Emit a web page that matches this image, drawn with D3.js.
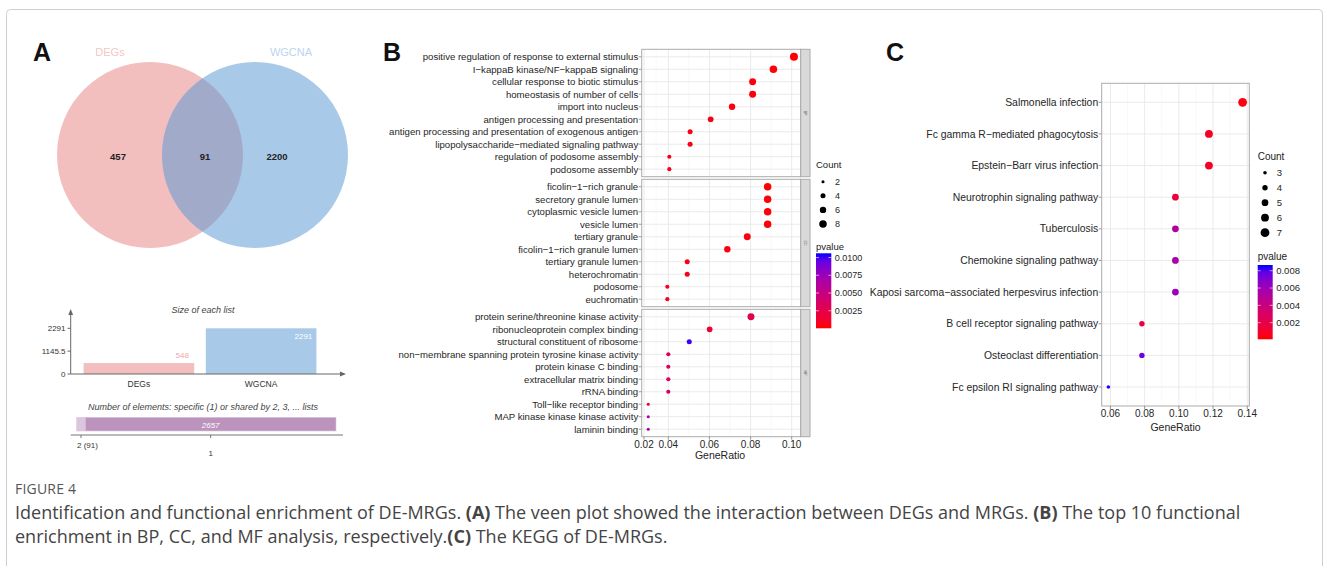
<!DOCTYPE html>
<html><head><meta charset="utf-8">
<script src="https://cdn.jsdelivr.net/npm/d3@7"></script>
<style>body{margin:0;background:#fff}svg{display:block}</style>
</head><body>
<svg id="c" width="1330" height="566"></svg>
<script>
// ---------------- DATA ----------------
const vennSets = ["DEGs", "WGCNA"];
const vennRegionCounts = [457, 91, 2200];
const listSizes = [548, 2291];
const sizeTicks = [0, 1145.5, 2291];
const sharedLabels = ["2 (91)", "1"];
const sharedCounts = [91, 2657];

const bpTerms = ["positive regulation of response to external stimulus","I\u2212kappaB kinase/NF\u2212kappaB signaling","cellular response to biotic stimulus","homeostasis of number of cells","import into nucleus","antigen processing and presentation","antigen processing and presentation of exogenous antigen","lipopolysaccharide\u2212mediated signaling pathway","regulation of podosome assembly","podosome assembly"];
const bpRatio = [0.1011,0.0911,0.0810,0.0810,0.0710,0.0606,0.0506,0.0506,0.0405,0.0405];
const bpCount = [9,8,7,7,6,5,4,4,3,3];
const bpP = [0.0001,0.0002,0.0002,0.0003,0.0003,0.0004,0.0004,0.0004,0.0005,0.0005];

const ccTerms = ["ficolin\u22121\u2212rich granule","secretory granule lumen","cytoplasmic vesicle lumen","vesicle lumen","tertiary granule","ficolin\u22121\u2212rich granule lumen","tertiary granule lumen","heterochromatin","podosome","euchromatin"];
const ccRatio = [0.0883,0.0883,0.0883,0.0883,0.0784,0.0687,0.0492,0.0492,0.0392,0.0392];
const ccCount = [8,8,8,8,7,6,4,4,3,3];
const ccP = [0.0001,0.0002,0.0002,0.0002,0.0003,0.0004,0.0005,0.0005,0.0006,0.0006];

const mfTerms = ["protein serine/threonine kinase activity","ribonucleoprotein complex binding","structural constituent of ribosome","non\u2212membrane spanning protein tyrosine kinase activity","protein kinase C binding","extracellular matrix binding","rRNA binding","Toll\u2212like receptor binding","MAP kinase kinase kinase activity","laminin binding"];
const mfRatio = [0.0802,0.0601,0.0502,0.0400,0.0400,0.0400,0.0400,0.0235,0.0235,0.0235];
const mfCount = [7,5,4,3,3,3,3,2,2,2];
const mfP = [0.0028,0.0015,0.0102,0.0030,0.0032,0.0035,0.0040,0.0015,0.0068,0.0072];

const goTicks = [0.02,0.04,0.06,0.08,0.10];
const goCountLegend = [2,4,6,8];
const goPTicks = [0.0025,0.0050,0.0075,0.0100];
const goFacets = ["BP","CC","MF"];

const keggTerms = ["Salmonella infection","Fc gamma R\u2212mediated phagocytosis","Epstein\u2212Barr virus infection","Neurotrophin signaling pathway","Tuberculosis","Chemokine signaling pathway","Kaposi sarcoma\u2212associated herpesvirus infection","B cell receptor signaling pathway","Osteoclast differentiation","Fc epsilon RI signaling pathway"];
const keggRatio = [0.1373,0.1176,0.1176,0.0980,0.0980,0.0980,0.0980,0.0784,0.0784,0.0588];
const keggCount = [7,6,6,5,5,5,5,4,4,3];
const keggP = [0.0003,0.0008,0.0009,0.0016,0.0052,0.0056,0.0062,0.0018,0.0074,0.0085];
const keggTicks = [0.06,0.08,0.10,0.12,0.14];
const keggCountLegend = [3,4,5,6,7];
const keggPTicks = [0.002,0.004,0.006,0.008];

// ---------------- DRAW ----------------
const svg = d3.select("#c");
const FONT = "'Liberation Sans', Arial, sans-serif";
const TXT = "#262626";

// outer frame
svg.append("rect").attr("x",6.5).attr("y",9.5).attr("width",1316).attr("height",600)
  .attr("rx",4).attr("fill","none").attr("stroke","#cfcfcf").attr("stroke-width",1);

// panel letters
[["A",33],["B",383],["C",886]].forEach(([t,x])=>{
  svg.append("text").attr("x",x).attr("y",61).text(t)
    .attr("font-family",FONT).attr("font-weight","bold").attr("font-size",25).attr("fill","#111");
});

// ---------- Panel A: Venn ----------
const vennG = svg.append("g");
const circles = [{cx:150,cy:155,r:93,fill:"#F3BEBE"},{cx:255,cy:155,r:93,fill:"#A9C9E9"}];
vennG.selectAll("circle.v").data(circles).join("circle")
  .attr("cx",d=>d.cx).attr("cy",d=>d.cy).attr("r",d=>d.r).attr("fill",d=>d.fill);
svg.append("clipPath").attr("id","clipL").append("circle")
  .attr("cx",circles[0].cx).attr("cy",circles[0].cy).attr("r",circles[0].r);
vennG.append("circle").attr("cx",circles[1].cx).attr("cy",circles[1].cy).attr("r",circles[1].r)
  .attr("fill","#A2AACA").attr("clip-path","url(#clipL)");
const vennLabelX = [118,205,277];
vennG.selectAll("text.n").data(vennRegionCounts).join("text")
  .attr("x",(d,i)=>vennLabelX[i]).attr("y",159.5).attr("text-anchor","middle")
  .attr("font-family",FONT).attr("font-size",9.5).attr("font-weight","bold").attr("fill","#222").text(d=>d);
const setLabelPos = [[110,56,"#F4C6C6"],[291,56,"#BBD5EE"]];
vennG.selectAll("text.s").data(vennSets).join("text")
  .attr("x",(d,i)=>setLabelPos[i][0]).attr("y",(d,i)=>setLabelPos[i][1]).attr("text-anchor","middle")
  .attr("font-family",FONT).attr("font-size",11).attr("fill",(d,i)=>setLabelPos[i][2]).text(d=>d);

// ---------- Panel A: size bar chart ----------
const barG = svg.append("g");
const axisCol = "#666";
const yS = d3.scaleLinear().domain([0,2291]).range([374,328.3]);
const xB = d3.scaleBand().domain(vennSets).range([77.5,322.5]).paddingInner(0.095).paddingOuter(0.05);
const barFill = ["#F3BEBE","#A9C9E9"];
barG.append("text").attr("x",203).attr("y",313).attr("text-anchor","middle").attr("font-style","italic")
  .attr("font-family",FONT).attr("font-size",9).attr("fill","#444").text("Size of each list");
barG.selectAll("rect").data(listSizes).join("rect")
  .attr("x",(d,i)=>xB(vennSets[i])).attr("width",xB.bandwidth())
  .attr("y",d=>yS(d)).attr("height",d=>yS(0)-yS(d)).attr("fill",(d,i)=>barFill[i]);
const defs = svg.append("defs");
defs.append("marker").attr("id","arr").attr("viewBox","0 0 10 10").attr("refX",5).attr("refY",5)
  .attr("markerWidth",6).attr("markerHeight",6).attr("orient","auto")
  .append("path").attr("d","M0,1L10,5L0,9z").attr("fill",axisCol);
barG.append("line").attr("x1",70.7).attr("x2",70.7).attr("y1",374).attr("y2",312)
  .attr("stroke",axisCol).attr("marker-end","url(#arr)");
barG.append("line").attr("x1",70.7).attr("x2",343).attr("y1",374).attr("y2",374)
  .attr("stroke",axisCol).attr("marker-end","url(#arr)");
barG.selectAll("line.t").data(sizeTicks).join("line").attr("class","t")
  .attr("x1",67.5).attr("x2",70.7).attr("y1",d=>yS(d)).attr("y2",d=>yS(d)).attr("stroke",axisCol);
barG.selectAll("text.t").data(sizeTicks).join("text").attr("class","t")
  .attr("x",65.5).attr("y",d=>yS(d)+3).attr("text-anchor","end")
  .attr("font-family",FONT).attr("font-size",8).attr("fill","#333").text(d=>d);
barG.selectAll("text.c").data(vennSets).join("text").attr("class","c")
  .attr("x",d=>xB(d)+xB.bandwidth()/2).attr("y",386.5).attr("text-anchor","middle")
  .attr("font-family",FONT).attr("font-size",8.5).attr("fill","#333").text(d=>d);
barG.append("text").attr("x",xB(vennSets[0])+xB.bandwidth()-12).attr("y",357.5).attr("text-anchor","middle")
  .attr("font-family",FONT).attr("font-size",8).attr("fill","#F2A8A8").text(listSizes[0]);
barG.append("text").attr("x",xB(vennSets[1])+xB.bandwidth()-13).attr("y",339).attr("text-anchor","middle")
  .attr("font-family",FONT).attr("font-size",8).attr("fill","#fff").text(listSizes[1]);

// shared bar
barG.append("text").attr("x",203).attr("y",409.5).attr("text-anchor","middle").attr("font-style","italic")
  .attr("font-family",FONT).attr("font-size",9).attr("fill","#444")
  .text("Number of elements: specific (1) or shared by 2, 3, ... lists");
const totalShared = d3.sum(sharedCounts);
const xS = d3.scaleLinear().domain([0,totalShared]).range([76.7,336]);
const cum = d3.cumsum(sharedCounts);
const starts = cum.map((c,i)=>c-sharedCounts[i]);
const sharedFill = ["#DCC5DE","#BC93BC"];
barG.selectAll("rect.s").data(sharedCounts).join("rect").attr("class","s")
  .attr("x",(d,i)=>xS(starts[i])).attr("width",d=>xS(d)-xS(0)).attr("y",417.3).attr("height",13.7)
  .attr("fill",(d,i)=>sharedFill[i]).attr("stroke","#d8c8da").attr("stroke-width",0.6);
barG.append("text").attr("x",xS(starts[1]+sharedCounts[1]/2)).attr("y",428).attr("text-anchor","middle")
  .attr("font-style","italic").attr("font-family",FONT).attr("font-size",8).attr("fill","#fff").text(sharedCounts[1]);
barG.append("line").attr("x1",70.7).attr("x2",343).attr("y1",435).attr("y2",435).attr("stroke","#777");
const midX = sharedCounts.map((d,i)=>xS(starts[i]+d/2));
barG.selectAll("line.st").data(midX).join("line").attr("class","st")
  .attr("x1",d=>d).attr("x2",d=>d).attr("y1",435).attr("y2",438).attr("stroke","#777");
const shLabY = [448,456];
barG.selectAll("text.sl").data(sharedLabels).join("text").attr("class","sl")
  .attr("x",(d,i)=>i===0?midX[i]-4:midX[i]).attr("y",(d,i)=>shLabY[i]).attr("text-anchor",(d,i)=>i===0?"start":"middle")
  .attr("font-family",FONT).attr("font-size",8).attr("fill","#333").text(d=>d);

// ---------- Dot-plot helper ----------
function gradientFor(id, scale, dom){
  const g = defs.append("linearGradient").attr("id",id).attr("x1",0).attr("y1",1).attr("x2",0).attr("y2",0);
  d3.range(0,1.0001,0.1).forEach(t=>{
    g.append("stop").attr("offset",t).attr("stop-color",scale(dom[0]+t*(dom[1]-dom[0])));
  });
}
function dotPanel(g, o){
  const yP = d3.scalePoint().domain(o.terms).range([o.y0,o.y1]).padding(0.6);
  g.append("rect").attr("x",o.x0).attr("y",o.y0).attr("width",o.x1-o.x0).attr("height",o.y1-o.y0).attr("fill","#fff");
  g.selectAll("line.gm").data(o.minor).join("line")
    .attr("x1",d=>o.x(d)).attr("x2",d=>o.x(d)).attr("y1",o.y0).attr("y2",o.y1).attr("stroke","#f3f3f3").attr("stroke-width",0.6);
  g.selectAll("line.gx").data(o.ticks.filter(t=>o.x(t)>o.x0&&o.x(t)<o.x1)).join("line")
    .attr("x1",d=>o.x(d)).attr("x2",d=>o.x(d)).attr("y1",o.y0).attr("y2",o.y1).attr("stroke","#e8e8e8").attr("stroke-width",0.9);
  g.selectAll("line.gy").data(o.terms).join("line")
    .attr("x1",o.x0).attr("x2",o.x1).attr("y1",d=>yP(d)).attr("y2",d=>yP(d)).attr("stroke","#e8e8e8").attr("stroke-width",0.9);
  g.selectAll("line.ty").data(o.terms).join("line")
    .attr("x1",o.x0-3).attr("x2",o.x0).attr("y1",d=>yP(d)).attr("y2",d=>yP(d)).attr("stroke","#555").attr("stroke-width",0.6);
  g.selectAll("text.yl").data(o.terms).join("text")
    .attr("x",o.x0-3.5).attr("y",d=>yP(d)).attr("dy","0.35em").attr("text-anchor","end")
    .attr("font-family",FONT).attr("font-size",o.fontSize).attr("fill",TXT).text(d=>d);
  g.selectAll("circle").data(o.terms).join("circle")
    .attr("cx",(d,i)=>o.x(o.ratios[i])).attr("cy",d=>yP(d))
    .attr("r",(d,i)=>o.size(o.counts[i])).attr("fill",(d,i)=>o.color(o.ps[i]));
  g.append("rect").attr("x",o.x0).attr("y",o.y0).attr("width",o.x1-o.x0).attr("height",o.y1-o.y0)
    .attr("fill","none").attr("stroke","#ababab").attr("stroke-width",1);
}
function xAxis(g, x, ticks, y, labY, titleX, titleY, fs, fmt){
  g.selectAll("line.tx").data(ticks).join("line").attr("x1",d=>x(d)).attr("x2",d=>x(d))
    .attr("y1",y).attr("y2",y+3).attr("stroke","#555").attr("stroke-width",0.6);
  g.selectAll("text.tx").data(ticks).join("text").attr("x",d=>x(d)).attr("y",labY).attr("text-anchor","middle")
    .attr("font-family",FONT).attr("font-size",fs).attr("fill",TXT).text(fmt);
  g.append("text").attr("x",titleX).attr("y",titleY).attr("text-anchor","middle")
    .attr("font-family",FONT).attr("font-size",fs+0.5).attr("fill","#222").text("GeneRatio");
}
function legends(g, o){
  g.append("text").attr("x",o.x).attr("y",o.countTitleY).attr("font-family",FONT).attr("font-size",o.fs).attr("fill","#222").text("Count");
  g.selectAll("circle.lg").data(o.counts).join("circle").attr("class","lg")
    .attr("cx",o.x+o.dotDx).attr("cy",(d,i)=>o.countY0+i*o.countStep).attr("r",d=>o.size(d)).attr("fill","#000");
  g.selectAll("text.lg").data(o.counts).join("text").attr("class","lg")
    .attr("x",o.x+o.labDx).attr("y",(d,i)=>o.countY0+i*o.countStep).attr("dy","0.35em")
    .attr("font-family",FONT).attr("font-size",o.fs-0.5).attr("fill",TXT).text(d=>d);
  g.append("text").attr("x",o.x).attr("y",o.pTitleY).attr("font-family",FONT).attr("font-size",o.fs).attr("fill","#222").text("pvalue");
  const pS = d3.scaleLinear().domain(o.pDom).range([o.barY1,o.barY0]);
  g.append("rect").attr("x",o.x).attr("y",o.barY0).attr("width",o.barW).attr("height",o.barY1-o.barY0).attr("fill",`url(#${o.grad})`);
  g.selectAll("line.pt").data(o.pTicks).join("line").attr("class","pt")
    .attr("x1",o.x).attr("x2",o.x+3).attr("y1",d=>pS(d)).attr("y2",d=>pS(d)).attr("stroke","#fff").attr("stroke-width",0.6);
  g.selectAll("line.pt2").data(o.pTicks).join("line").attr("class","pt2")
    .attr("x1",o.x+o.barW-3).attr("x2",o.x+o.barW).attr("y1",d=>pS(d)).attr("y2",d=>pS(d)).attr("stroke","#fff").attr("stroke-width",0.6);
  g.selectAll("text.pt").data(o.pTicks).join("text").attr("class","pt")
    .attr("x",o.x+o.barW+3.5).attr("y",d=>pS(d)).attr("dy","0.35em")
    .attr("font-family",FONT).attr("font-size",o.fs-0.5).attr("fill",TXT).text(o.pFmt);
}

// ---------- Panel B ----------
const bG = svg.append("g");
const goX = d3.scaleLinear().domain([0.02,0.04,0.10]).range([644,668.3,791.7]);
const goPDom = [0.00003,0.0106];
const goColor = d3.scaleLinear().domain(goPDom).range(["red","blue"]).interpolate(d3.interpolateLab);
const goSize = d3.scaleRadial().domain([2,9]).range([1.55,4.0]);
const facetBoxes = [[49.3,176.7],[179.3,306.7],[309.3,436.7]];
const goData = [[bpTerms,bpRatio,bpCount,bpP],[ccTerms,ccRatio,ccCount,ccP],[mfTerms,mfRatio,mfCount,mfP]];
goData.forEach((d,k)=>{
  const g = bG.append("g");
  dotPanel(g,{x0:641.7,x1:800.7,y0:facetBoxes[k][0],y1:facetBoxes[k][1],x:goX,
    terms:d[0],ratios:d[1],counts:d[2],ps:d[3],color:goColor,size:goSize,
    ticks:goTicks,minor:[0.03,0.05,0.07,0.09],fontSize:9.6});
  g.append("rect").attr("x",800.7).attr("y",facetBoxes[k][0]).attr("width",9.3).attr("height",facetBoxes[k][1]-facetBoxes[k][0])
    .attr("fill","#d9d9d9").attr("stroke","#ababab").attr("stroke-width",1);
  const cy = (facetBoxes[k][0]+facetBoxes[k][1])/2;
  g.append("text").attr("transform",`translate(805.3,${cy}) rotate(90)`).attr("text-anchor","middle").attr("dy","0.35em")
    .attr("font-family",FONT).attr("font-size",3.5).attr("fill","#555").text(goFacets[k]);
});
xAxis(bG, goX, goTicks, 436.7, 448, 720, 459, 10, d=>d.toFixed(2));
gradientFor("gradB", goColor, goPDom);
legends(bG,{x:816,fs:9.5,countTitleY:168,counts:goCountLegend,size:goSize,dotDx:7,labDx:19,countY0:181.7,countStep:14.1,
  pTitleY:249.5,pDom:goPDom,barY0:253.3,barY1:328.3,barW:15.3,grad:"gradB",pTicks:goPTicks,pFmt:d=>d.toFixed(4)});

// ---------- Panel C ----------
const cG = svg.append("g");
const kX = d3.scaleLinear().domain([0.0549,0.1412]).range([1101.7,1249.3]);
const kPDom = [0.00008,0.00866];
const kColor = d3.scaleLinear().domain(kPDom).range(["red","blue"]).interpolate(d3.interpolateLab);
const kSize = d3.scaleRadial().domain([3,7]).range([1.8,4.4]);
dotPanel(cG,{x0:1101.7,x1:1249.3,y0:83.3,y1:406,x:kX,terms:keggTerms,ratios:keggRatio,counts:keggCount,ps:keggP,
  color:kColor,size:kSize,ticks:keggTicks,minor:[0.07,0.09,0.11,0.13],fontSize:10.4});
xAxis(cG, kX, keggTicks, 406, 417, 1175.5, 430.5, 10, d=>d.toFixed(2));
gradientFor("gradC", kColor, kPDom);
legends(cG,{x:1257.7,fs:10,countTitleY:159.5,counts:keggCountLegend,size:kSize,dotDx:7.3,labDx:19,countY0:172.7,countStep:15,
  pTitleY:259.5,pDom:kPDom,barY0:265,barY1:339.3,barW:15,grad:"gradC",pTicks:keggPTicks,pFmt:d=>d.toFixed(3)});

// ---------- Caption ----------
const CAP = "'Open Sans', 'Noto Sans', sans-serif";
svg.append("text").attr("x",15).attr("y",494).attr("font-family",CAP).attr("font-size",14).attr("fill","#555")
  .attr("letter-spacing",0.2).text("FIGURE 4");
const capLines = [
  [["Identification and functional enrichment of DE-MRGs. ",0],["(A)",1],[" The veen plot showed the interaction between DEGs and MRGs. ",0],["(B)",1],[" The top 10 functional",0]],
  [["enrichment in BP, CC, and MF analysis, respectively.",0],["(C)",1],[" The KEGG of DE-MRGs.",0]]
];
const capY = [519,543];
capLines.forEach((ln,i)=>{
  const t = svg.append("text").attr("x",15).attr("y",capY[i]).attr("font-family",CAP).attr("font-size",18).attr("fill","#444");
  ln.forEach(([s,b])=>t.append("tspan").attr("font-weight",b?"bold":"normal").text(s));
});
</script>
</body></html>
